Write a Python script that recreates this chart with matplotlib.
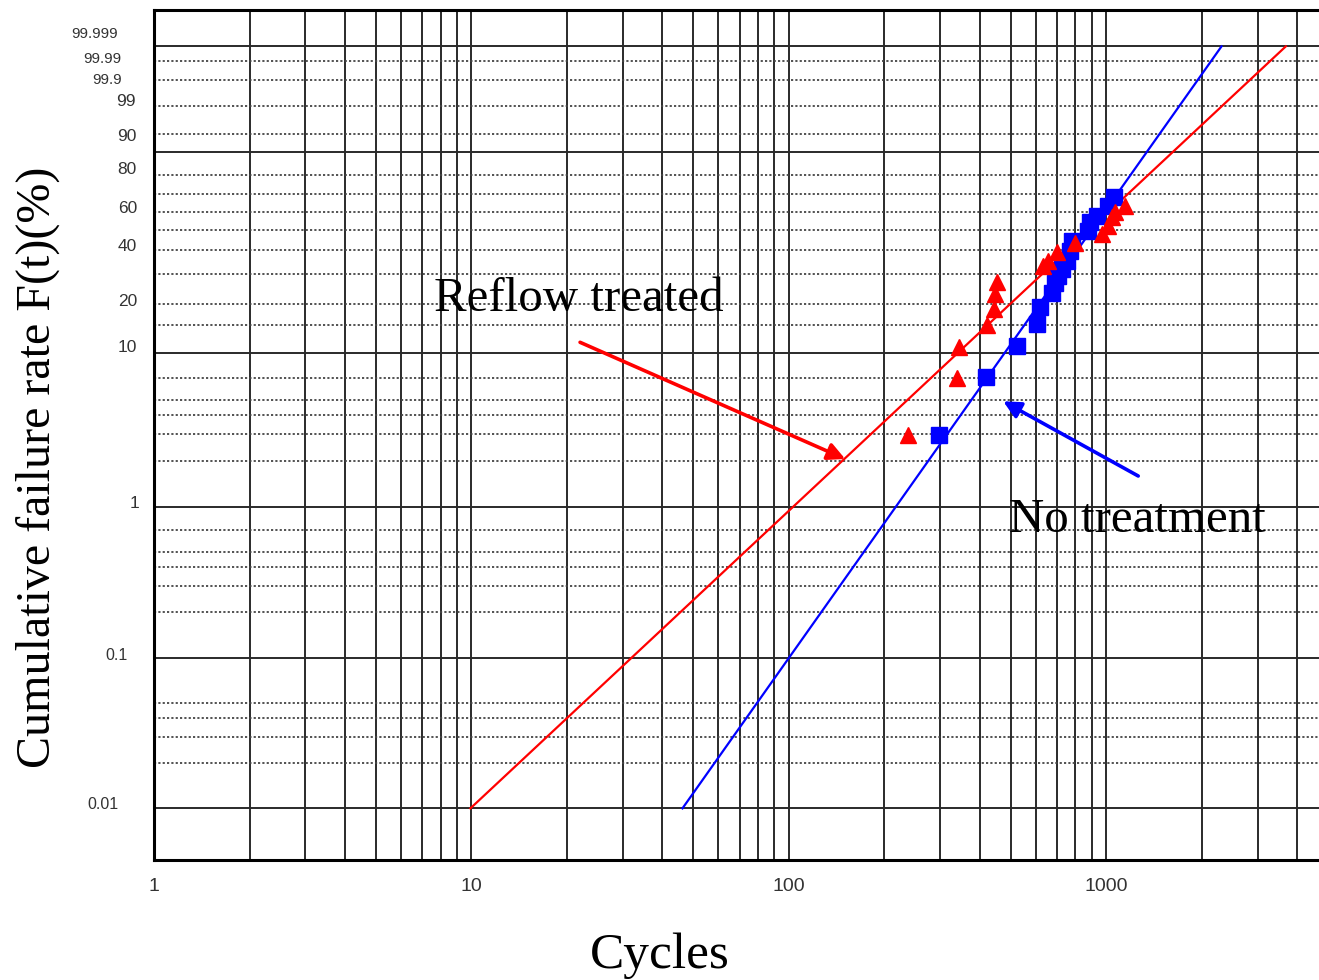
import numpy as np
import matplotlib
matplotlib.use("Agg")
import matplotlib.pyplot as plt
from matplotlib.ticker import FixedLocator, NullFormatter, LogLocator

# ---------------- data ----------------
blue_cycles = [298, 419, 525, 607, 620, 676, 691, 707, 727, 754, 771, 782, 879, 891, 938, 1016, 1061]
blue_F = [2.96, 7.04, 11.07, 15.15, 19.20, 23.21, 26.50, 29.01, 31.72, 35.03, 39.50, 44.33,
          49.47, 54.32, 57.64, 63.25, 68.31]
red_cycles = [238, 339, 344, 422, 444, 447, 454, 634, 657, 701, 800, 972, 1016, 1046, 1069, 1148]
red_F = [2.96, 6.93, 10.91, 14.94, 18.68, 22.91, 26.85, 32.93, 35.03, 39.04, 43.34, 47.90,
         52.15, 57.09, 59.88, 63.25]

# Weibull fit lines (shape, scale) and the F range they are drawn over (%)
red_beta, red_eta = 1.97, 1065.0
blue_beta, blue_eta = 2.98, 1017.0
fit_F_range = [0.01, 99.999]

# grid values (%)
major_F = [0.01, 0.1, 1, 10, 90, 99.999]
minor_F = [0.02, 0.03, 0.04, 0.05, 0.2, 0.3, 0.4, 0.5, 0.7, 2, 3, 4, 5, 7,
           15, 20, 30, 40, 50, 60, 70, 80, 95, 99, 99.9, 99.99]

# y tick labels and their anchor gridlines (%)
ylabels = ["99.999", "99.99", "99.9", "99", "90", "80", "60", "40", "20", "10", "1", "0.1", "0.01"]
ylabel_anchor = [99.999, 99.99, 99.9, 99, 90, 80, 60, 40, 20, 10, 1, 0.1, 0.01]
# layout: label offsets in pixels (x: right edge from axis, y: upward) and font sizes
ylab_dx = [-36, -33, -32, -18, -17, -17, -17, -17, -17, -17, -15, -26, -36]
ylab_dy = [12, 2, 0, 5, 15, 6, 3, 4, 3, 6, 3, 2, 4]
ylab_fs = [11, 11, 11, 12.5, 12.5, 12.5, 12.5, 12.5, 12.5, 12.5, 12.5, 11.5, 11.5]

xticks = [1, 10, 100, 1000]
xticklabels = ["1", "10", "100", "1000"]


# ---------------- Weibull probability scale ----------------
def fwd(p):
    p = np.asarray(p, dtype=float)
    with np.errstate(all="ignore"):
        q = np.clip(p / 100.0, 1e-300, 1 - 1e-16)
        return np.log(-np.log1p(-q))


def inv(w):
    w = np.asarray(w, dtype=float)
    with np.errstate(all="ignore"):
        return -100.0 * np.expm1(-np.exp(w))


W, H = 1319, 980
fig = plt.figure(figsize=(W / 100, H / 100), dpi=100)
fig.patch.set_facecolor("white")

ax_left, ax_right = 154, 1328
ax_top, ax_bottom = 10, 860
ax = fig.add_axes([ax_left / W, (H - ax_bottom) / H,
                   (ax_right - ax_left) / W, (ax_bottom - ax_top) / H])

ax.set_xscale("log")
ax.set_yscale("function", functions=(fwd, inv))
ax.set_xlim(1, 5000)
ax.set_ylim(float(inv(-10)), float(inv(3)))

# grid
ax.yaxis.set_major_locator(FixedLocator(major_F))
ax.yaxis.set_minor_locator(FixedLocator(minor_F))
ax.yaxis.set_major_formatter(NullFormatter())
ax.yaxis.set_minor_formatter(NullFormatter())
ax.xaxis.set_major_locator(FixedLocator(xticks))
ax.xaxis.set_minor_locator(LogLocator(base=10, subs=range(2, 10)))
ax.set_xticklabels(xticklabels)
ax.xaxis.set_minor_formatter(NullFormatter())

ax.tick_params(axis="both", which="both", length=0)
ax.tick_params(axis="x", pad=13, labelsize=14, labelcolor="#333333")
for lab in ax.get_xticklabels():
    lab.set_family("Liberation Sans")

ax.set_axisbelow(True)
ax.xaxis.grid(True, which="both", color="#2a2a2a", lw=1.4, ls="-")
ax.yaxis.grid(True, which="major", color="#2a2a2a", lw=1.4, ls="-")
ax.yaxis.grid(True, which="minor", color="#444444", lw=1.3, ls=(0, (1.2, 1.2)))

for s in ["left", "bottom", "top"]:
    ax.spines[s].set_linewidth(2.2)
    ax.spines[s].set_color("black")
ax.spines["right"].set_visible(False)

# y tick labels
for lab, f, dx, dy, fs in zip(ylabels, ylabel_anchor, ylab_dx, ylab_dy, ylab_fs):
    ax.annotate(lab, xy=(0, f), xycoords=("axes fraction", "data"),
                xytext=(dx, dy), textcoords="offset pixels",
                ha="right", va="center", fontsize=fs, family="Liberation Sans",
                color="#333333", annotation_clip=False)

# fit lines
Fl = np.array(fit_F_range) / 100.0
red_x = red_eta * (-np.log1p(-Fl)) ** (1 / red_beta)
blue_x = blue_eta * (-np.log1p(-Fl)) ** (1 / blue_beta)
ax.plot(blue_x, fit_F_range, color="#0000ff", lw=1.6, zorder=3)
ax.plot(red_x, fit_F_range, color="#ff0000", lw=1.6, zorder=3)

# data points
ax.plot(blue_cycles, blue_F, ls="none", marker="s", ms=11, color="#0000ff", zorder=4)
ax.plot(red_cycles, red_F, ls="none", marker="^", ms=11.5, color="#ff0000", zorder=5)

# annotations
serif = "Liberation Serif"
ax.annotate("", xy=(150.6, 2.07), xytext=(22.0, 11.72),
            arrowprops=dict(arrowstyle="-|>", color="#ff0000", lw=2.6,
                            mutation_scale=26, shrinkA=0, shrinkB=0), zorder=6)
ax.annotate("", xy=(474, 4.93), xytext=(1262, 1.60),
            arrowprops=dict(arrowstyle="-|>", color="#0000ff", lw=2.6,
                            mutation_scale=26, shrinkA=0, shrinkB=0), zorder=6)

fig.text(434 / W, (H - 311) / H, "Reflow treated", family=serif, fontsize=35.2,
         ha="left", va="baseline", color="black")
fig.text(1009 / W, (H - 532) / H, "No treatment", family=serif, fontsize=35.2,
         ha="left", va="baseline", color="black")

fig.text(38 / W, 1 - 467 / H, "Cumulative failure rate F(t)(%)", family=serif,
         fontsize=34.6, rotation=90, ha="center", va="center")
fig.text(660 / W, (H - 968) / H, "Cycles", family=serif, fontsize=37,
         ha="center", va="baseline")

fig.savefig("out.png", dpi=100, facecolor="white")
